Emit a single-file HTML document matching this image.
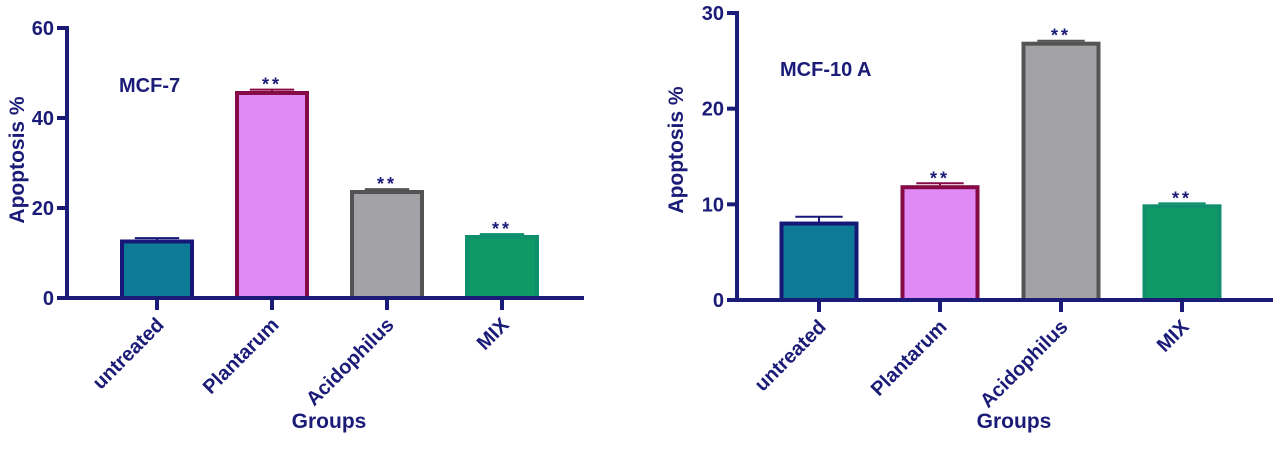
<!DOCTYPE html>
<html><head><meta charset="utf-8"><style>
html,body{margin:0;padding:0;background:#fff;width:1280px;height:451px;overflow:hidden}
text{font-family:"Liberation Sans",Arial,sans-serif;font-weight:bold;fill:#1b1b78}
</style></head><body>
<svg id="svg" width="1280" height="451" xmlns="http://www.w3.org/2000/svg"></svg>
<script>
const categories = ["untreated","Plantarum","Acidophilus","MIX"];
const mcf7Values = [13, 46, 24, 14];
const mcf7Errors = [0.3, 0.3, 0.2, 0.2];
const mcf7Sig = ["", "**", "**", "**"];
const mcf7Ticks = [0, 20, 40, 60];
const mcf10Values = [8.2, 12, 27, 10];
const mcf10Errors = [0.5, 0.2, 0.1, 0.1];
const mcf10Sig = ["", "**", "**", "**"];
const mcf10Ticks = [0, 10, 20, 30];

const NS = "http://www.w3.org/2000/svg";
const svg = document.getElementById("svg");
const AX = "#1b1b78";
const fills = ["#0d7b95","#df8af5","#a3a3a7","#0f9966"];
const strokes = ["#17177a","#860a46","#545454","#0f8f6c"];

function mk(tag, attrs, parent){
  const e = document.createElementNS(NS, tag);
  for (const k in attrs) e.setAttribute(k, attrs[k]);
  (parent||svg).appendChild(e);
  return e;
}

function chart(cfg){
  const g = mk("g", {});
  
  
  const yMax = cfg.ticks[cfg.ticks.length-1];
  const y = v => cfg.y0 - (v / yMax) * (cfg.y0 - cfg.yTop);
  const bw = cfg.bw;
  const cx = i => cfg.x0 + cfg.first + i * cfg.step;
  cfg.values.forEach((v, i) => {
    const top = y(v);
    const eb = mk("line", {x1:cx(i)-bw*0.3, x2:cx(i)+bw*0.3, y1:y(v+cfg.errors[i]), y2:y(v+cfg.errors[i]), stroke:strokes[i], "stroke-width":2}, g);
    
    
    const ev = mk("line", {x1:cx(i), x2:cx(i), y1:y(v+cfg.errors[i]), y2:top, stroke:strokes[i], "stroke-width":2}, g);
    
    
    const r = mk("rect", {x:cx(i)-bw/2+2, y:top+2, width:bw-4, height:cfg.y0-top-2, fill:fills[i], stroke:strokes[i], "stroke-width":4}, g);
    
    
    if (cfg.sig[i]) {
      const s = mk("text", {x:cx(i), y:y(v+cfg.errors[i])+1, "text-anchor":"middle", "font-size":18, "font-weight":"normal", "letter-spacing":"3"}, g);
      s.textContent = cfg.sig[i];
      
      
    }
    const t = mk("line", {x1:cx(i), x2:cx(i), y1:cfg.y0, y2:cfg.y0+12, stroke:AX, "stroke-width":4}, g);
    
    
    const lx = cx(i)+8, ly = cfg.y0+28;
    const lbl = mk("text", {x:lx, y:ly, "text-anchor":"end", "font-size":20, transform:`rotate(-45 ${lx} ${ly})`}, g);
    lbl.textContent = categories[i];
    
    
  });
  const ya = mk("line", {x1:cfg.x0, x2:cfg.x0, y1:cfg.yTop-2, y2:cfg.y0+2, stroke:AX, "stroke-width":4}, g);
  
  
  const xa = mk("line", {x1:cfg.x0-2, x2:cfg.xEnd, y1:cfg.y0, y2:cfg.y0, stroke:AX, "stroke-width":4}, g);
  
  
  cfg.ticks.forEach(tv => {
    const tk = mk("line", {x1:cfg.x0-10, x2:cfg.x0, y1:y(tv), y2:y(tv), stroke:AX, "stroke-width":4}, g);
    
    
    const tl = mk("text", {x:cfg.x0-13, y:y(tv)+7, "text-anchor":"end", "font-size":20}, g);
    tl.textContent = tv;
    
    
  });
  const yt = mk("text", {x:cfg.ytx, y:cfg.yty, "text-anchor":"middle", "font-size":21, transform:`rotate(-90 ${cfg.ytx} ${cfg.yty})`}, g);
  yt.textContent = "Apoptosis %";
  
  
  const xt = mk("text", {x:cfg.xtx, y:428, "text-anchor":"middle", "font-size":21}, g);
  xt.textContent = "Groups";
  
  
  const ti = mk("text", {x:cfg.tx, y:cfg.ty, "font-size":20}, g);
  ti.textContent = cfg.title;
  
  
}

chart({name:"mcf7-chart", values:mcf7Values, errors:mcf7Errors, sig:mcf7Sig, ticks:mcf7Ticks,
  x0:67, y0:298, yTop:28, xEnd:584, first:90, step:115, bw:74,
  ytx:24, yty:160, xtx:329, tx:119, ty:92, title:"MCF-7"});
chart({name:"mcf10a-chart", values:mcf10Values, errors:mcf10Errors, sig:mcf10Sig, ticks:mcf10Ticks,
  x0:737, y0:300, yTop:13, xEnd:1273, first:82, step:121, bw:79,
  ytx:683, yty:150, xtx:1014, tx:780, ty:76, title:"MCF-10 A"});
</script>
</body></html>
